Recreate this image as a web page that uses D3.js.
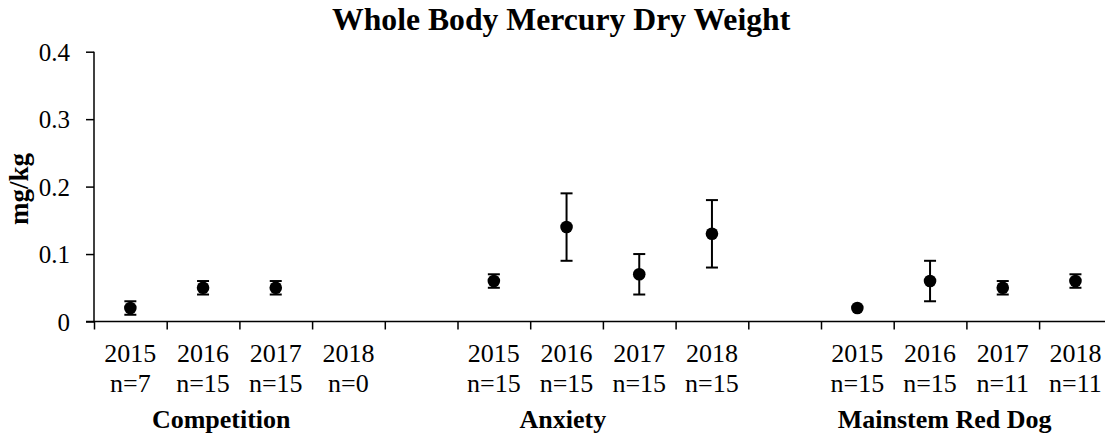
<!DOCTYPE html>
<html>
<head>
<meta charset="utf-8">
<script src="https://cdn.jsdelivr.net/npm/d3@7"></script>
<style>
  body { margin: 0; background: #fff; }
  svg text { font-family: "Liberation Serif", "Times New Roman", serif; fill: #000; }
</style>
</head>
<body>
<div id="chart"></div>
<script>
// chart data
const groups = ["Competition", "Anxiety", "Mainstem Red Dog"];
const years = ["2015", "2016", "2017", "2018"];
const sampleSizes = [
  [7, 15, 15, 0],
  [15, 15, 15, 15],
  [15, 15, 11, 11]
];
const means = [
  [0.02, 0.05, 0.05, null],
  [0.06, 0.14, 0.07, 0.13],
  [0.02, 0.06, 0.05, 0.06]
];
const errors = [
  [0.01, 0.01, 0.01, null],
  [0.01, 0.05, 0.03, 0.05],
  [0, 0.03, 0.01, 0.01]
];
const yTicks = [0, 0.1, 0.2, 0.3, 0.4];

const width = 1105, height = 435;
const slotsPerGroup = years.length + 1;   // one empty slot between groups
const nSlots = groups.length * slotsPerGroup - 1;
// group labels in the original sit a bit off-centre
const groupLabelShift = [-0.25, -0.55, -0.3];

const svg = d3.select("#chart").append("svg")
  .attr("width", width)
  .attr("height", height);

const x = d3.scaleLinear()
  .domain([0, nSlots + 1])
  .range([94, 94 + (nSlots + 1) * 72.7]);

const y = d3.scaleLinear()
  .domain([0, 0.4])
  .range([321.5, 51.7]);

// flatten into points
const points = [];
groups.forEach((g, gi) => {
  years.forEach((yr, yi) => {
    points.push({
      slot: gi * slotsPerGroup + yi,
      year: yr,
      n: sampleSizes[gi][yi],
      mean: means[gi][yi],
      err: errors[gi][yi]
    });
  });
});

// title
svg.append("text")
  .attr("x", 332)
  .attr("y", 30)
  .style("font-size", "31.7px")
  .style("font-weight", "bold")
  .text("Whole Body Mercury Dry Weight");

// y axis
const yAxis = d3.axisLeft(y)
  .tickValues(yTicks)
  .tickSize(8)
  .tickPadding(16)
  .tickFormat(d => d === 0 ? "0" : d3.format(".1f")(d));

const yG = svg.append("g")
  .attr("transform", `translate(${x(0)},0)`)
  .call(yAxis);
yG.selectAll("path, line").attr("stroke", "#000").attr("stroke-width", 1.5);
yG.select(".domain").attr("d", `M0,${y(0.4)}V${y(0)}`);
yG.selectAll("text").style("font-size", "25px").attr("dy", "0.35em");

svg.append("text")
  .attr("transform", `translate(28,${189}) rotate(-90)`)
  .attr("text-anchor", "middle")
  .style("font-size", "27px")
  .style("font-weight", "bold")
  .text("mg/kg");

// x axis: ticks at slot boundaries
const xAxis = d3.axisBottom(x)
  .tickValues(d3.range(0, nSlots + 1))
  .tickSize(8)
  .tickFormat("");

const xG = svg.append("g")
  .attr("transform", `translate(0,${y(0)})`)
  .call(xAxis);
xG.selectAll("path, line").attr("stroke", "#000").attr("stroke-width", 1.5);
xG.select(".domain").attr("d", `M${x(0) - 8},0H${x(nSlots + 1)}`);

// category labels
const labels = svg.append("g").style("font-size", "26px");
labels.selectAll(".year")
  .data(points)
  .join("text")
  .attr("class", "year")
  .attr("x", d => x(d.slot + 0.5))
  .attr("y", 362)
  .attr("text-anchor", "middle")
  .text(d => d.year);

labels.selectAll(".n")
  .data(points)
  .join("text")
  .attr("class", "n")
  .attr("x", d => x(d.slot + 0.5))
  .attr("y", 392)
  .attr("text-anchor", "middle")
  .text(d => "n=" + d.n);

labels.selectAll(".group")
  .data(groups)
  .join("text")
  .attr("class", "group")
  .attr("x", (d, i) => x(i * slotsPerGroup + years.length / 2 + groupLabelShift[i]))
  .attr("y", 428)
  .attr("text-anchor", "middle")
  .style("font-weight", "bold")
  .text(d => d);

// error bars and points
const valid = points.filter(d => d.mean !== null);
const capW = 6;

const bars = svg.append("g")
  .attr("stroke", "#000")
  .attr("stroke-width", 2);

bars.selectAll(".stem")
  .data(valid.filter(d => d.err > 0))
  .join("line")
  .attr("x1", d => x(d.slot + 0.5))
  .attr("x2", d => x(d.slot + 0.5))
  .attr("y1", d => y(d.mean - d.err))
  .attr("y2", d => y(d.mean + d.err));

bars.selectAll(".capTop")
  .data(valid.filter(d => d.err > 0))
  .join("line")
  .attr("class", "capTop")
  .attr("x1", d => x(d.slot + 0.5) - capW)
  .attr("x2", d => x(d.slot + 0.5) + capW)
  .attr("y1", d => y(d.mean + d.err))
  .attr("y2", d => y(d.mean + d.err));

bars.selectAll(".capBottom")
  .data(valid.filter(d => d.err > 0))
  .join("line")
  .attr("class", "capBottom")
  .attr("x1", d => x(d.slot + 0.5) - capW)
  .attr("x2", d => x(d.slot + 0.5) + capW)
  .attr("y1", d => y(d.mean - d.err))
  .attr("y2", d => y(d.mean - d.err));

svg.append("g")
  .selectAll("circle")
  .data(valid)
  .join("circle")
  .attr("cx", d => x(d.slot + 0.5))
  .attr("cy", d => y(d.mean))
  .attr("r", 6.3)
  .attr("fill", "#000");
</script>
</body>
</html>
